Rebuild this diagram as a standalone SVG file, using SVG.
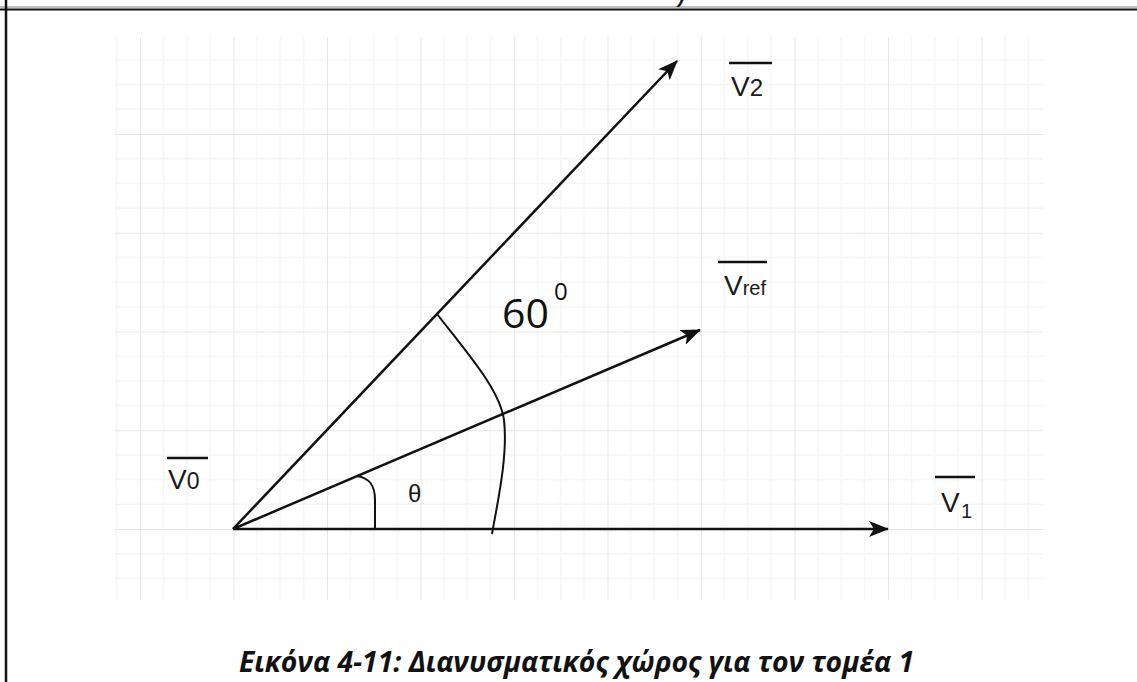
<svg xmlns="http://www.w3.org/2000/svg" width="1137" height="682" viewBox="0 0 1137 682">
  <style>
    .lbl { font-family: "Liberation Sans", Arial, sans-serif; fill: #1a1a1a; }
    .vec { stroke: #111; stroke-width: 2.5; fill: none; }
    .arc { stroke: #111; stroke-width: 2; fill: none; }
    .bar { stroke: #111; stroke-width: 2.5; }
  </style>
  <defs>
    <marker id="arrow" viewBox="0 0 20 16" refX="19" refY="8" markerWidth="20" markerHeight="16" markerUnits="userSpaceOnUse" orient="auto">
      <path d="M0,0 L20,8 L0,16 L5,8 Z" fill="#111"/>
    </marker>
    <pattern id="grid" patternUnits="userSpaceOnUse" x="140" y="134" width="93.5" height="98.75">
      <g stroke="#f5f5f5" stroke-width="1.5">
        <line x1="23.375" y1="0" x2="23.375" y2="98.75"/>
        <line x1="46.75" y1="0" x2="46.75" y2="98.75"/>
        <line x1="70.125" y1="0" x2="70.125" y2="98.75"/>
        <line x1="0" y1="24.69" x2="93.5" y2="24.69"/>
        <line x1="0" y1="49.375" x2="93.5" y2="49.375"/>
        <line x1="0" y1="74.06" x2="93.5" y2="74.06"/>
      </g>
      <g stroke="#e7e7e7" stroke-width="2">
        <line x1="0" y1="0" x2="0" y2="98.75"/>
        <line x1="0" y1="0" x2="93.5" y2="0"/>
      </g>
    </pattern>
  </defs>

  <rect width="1137" height="682" fill="#ffffff"/>

  <g id="frame">
    <line x1="0" y1="7" x2="1137" y2="7" stroke="#aaaaaa" stroke-width="1.5"/>
    <line x1="0" y1="9.5" x2="1137" y2="9.5" stroke="#111" stroke-width="2"/>
    <line x1="6" y1="0" x2="6" y2="682" stroke="#111" stroke-width="2.5"/>
    <text x="678" y="3" class="lbl" font-size="20" font-style="italic" font-weight="bold">)</text>
  </g>

  <g id="grid-bg">
    <rect x="115" y="37" width="928" height="563" fill="url(#grid)"/>
  </g>

  <g id="connectors">
    <line class="vec" x1="233" y1="529" x2="888" y2="529" marker-end="url(#arrow)"/>
    <line class="vec" x1="233" y1="529" x2="677" y2="61" marker-end="url(#arrow)"/>
    <line class="vec" x1="233" y1="529" x2="700" y2="330" marker-end="url(#arrow)"/>
    <path class="arc" d="M437,314 C468,354 500,390 504,420 C508,455 498,500 492,534"/>
    <path class="arc" d="M357,476 C370,478 375,486 375,500 L375,529"/>
  </g>

  <g id="label-v2">
    <line class="bar" x1="729" y1="63" x2="772" y2="63"/>
    <text class="lbl" x="731" y="96"><tspan font-size="28">V</tspan><tspan font-size="24">2</tspan></text>
  </g>

  <g id="label-vref">
    <line class="bar" x1="718" y1="262" x2="767" y2="262"/>
    <text class="lbl" x="724" y="295"><tspan font-size="28">V</tspan><tspan font-size="20">ref</tspan></text>
  </g>

  <g id="label-v0">
    <line class="bar" x1="167" y1="458" x2="208" y2="458"/>
    <text class="lbl" x="168" y="489"><tspan font-size="28">V</tspan><tspan font-size="23">0</tspan></text>
  </g>

  <g id="label-v1">
    <line class="bar" x1="935" y1="477" x2="975" y2="477"/>
    <text class="lbl" x="941" y="512" font-size="28">V</text>
    <text class="lbl" x="961" y="518" font-size="20">1</text>
  </g>

  <g id="label-60">
    <text x="502" y="328" font-family="'Open Sans', 'Liberation Sans', sans-serif" font-size="41" fill="#111">60</text>
    <text x="554" y="300" font-family="'Open Sans', 'Liberation Sans', sans-serif" font-size="24" fill="#111">0</text>
  </g>

  <g id="label-theta">
    <text class="lbl" x="408" y="502" font-size="24">θ</text>
  </g>

  <g id="caption">
    <text x="239" y="672" font-family="'Open Sans', 'Liberation Sans', sans-serif" font-size="28" font-weight="bold" font-style="italic" fill="#111" textLength="675" lengthAdjust="spacingAndGlyphs">Εικόνα 4-11: Διανυσματικός χώρος για τον τομέα 1</text>
  </g>
</svg>
